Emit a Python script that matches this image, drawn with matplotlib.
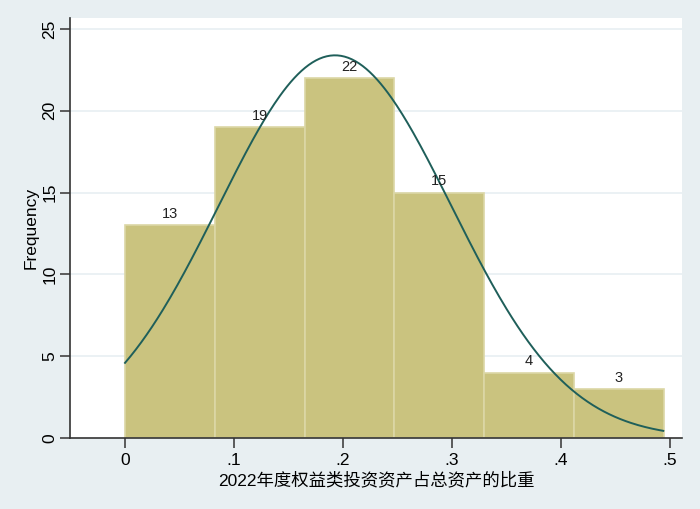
import numpy as np
import matplotlib.pyplot as plt

plt.rcParams['font.family'] = ['Liberation Sans', 'Noto Sans CJK SC', 'DejaVu Sans']

# histogram counts (6 bins)
counts = [13, 19, 22, 15, 4, 3]
bin_start = 0.0
bin_width = 0.0824
# normal fit
mu = 0.1927
sd = 0.1068
x_max = 0.494

xticks = [0, 0.1, 0.2, 0.3, 0.4, 0.5]
xticklabels = ['0', '.1', '.2', '.3', '.4', '.5']
yticks = [0, 5, 10, 15, 20, 25]

BG = '#e8eff2'
BAR = '#cac37f'
BAR_EDGE = '#dcd7a6'
LINE = '#1f5f5a'

fig = plt.figure(figsize=(7.0, 5.09), dpi=100, facecolor=BG)
ax = fig.add_axes([0.1, 0.1395, 0.874, 0.825])
ax.set_facecolor('white')

edges = bin_start + bin_width*np.arange(len(counts)+1)
lefts = edges[:-1]
ax.bar(lefts, counts, width=bin_width, align='edge', color=BAR,
       edgecolor=BAR_EDGE, linewidth=1.2, zorder=2)

for l, c in zip(lefts, counts):
    ax.annotate(str(c), (l+bin_width/2, c), xytext=(0, 3), textcoords='offset points',
                ha='center', va='bottom', fontsize=10.5, color='#222222', zorder=4)

n = sum(counts)
xs = np.linspace(bin_start, x_max, 300)
dens = n*bin_width*np.exp(-0.5*((xs-mu)/sd)**2)/(sd*np.sqrt(2*np.pi))
ax.plot(xs, dens, color=LINE, linewidth=1.4, zorder=3)

ax.set_xlim(-0.0505, 0.511)
ax.set_ylim(0, 25.67)
ax.set_xticks(xticks)
ax.set_xticklabels(xticklabels, fontsize=12.5)
ax.set_yticks(yticks)
ax.set_yticklabels([str(v) for v in yticks], fontsize=12.5, rotation=90, va='center')
for v in yticks[1:]:
    ax.axhline(v, color='#e8eff2', linewidth=1.2, zorder=1)

for s in ['top', 'right']:
    ax.spines[s].set_visible(False)
for s in ['left', 'bottom']:
    ax.spines[s].set_color('#333333')
    ax.spines[s].set_linewidth(1.2)
ax.tick_params(direction='out', length=7, width=1.1, color='#333333', pad=4)
ax.tick_params(axis='y', pad=2)

ax.set_ylabel('Frequency', fontsize=12.5, labelpad=3)
ax.set_xlabel('2022年度权益类投资资产占总资产的比重', fontsize=12.5, labelpad=2)

plt.savefig('out.png', dpi=100, facecolor=BG)
